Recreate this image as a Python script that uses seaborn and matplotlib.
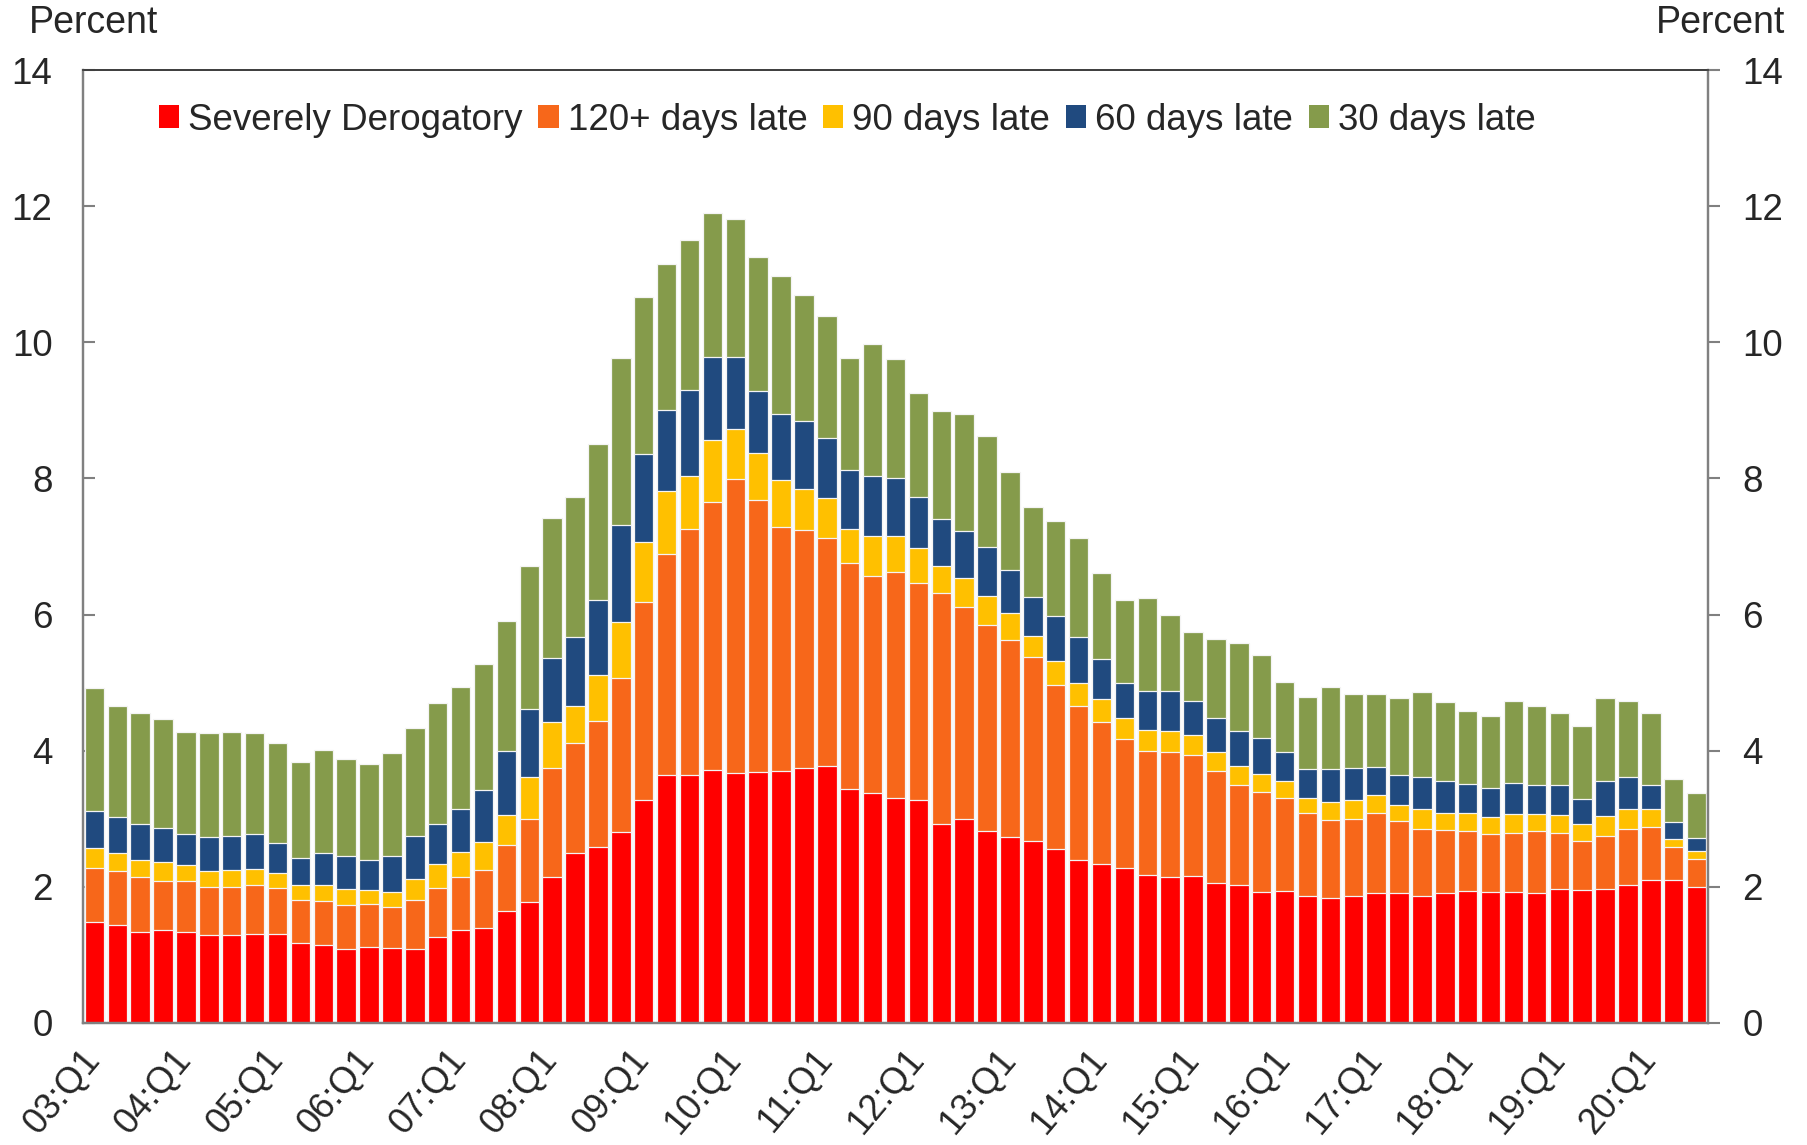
import numpy as np
import pandas as pd
import seaborn as sns
import matplotlib.pyplot as plt
from matplotlib.patches import Patch
from matplotlib.transforms import ScaledTranslation

# quarters 03:Q1 .. 20:Q3
quarters = ['{:02d}:Q{}'.format(y, q) for y in range(3, 21) for q in range(1, 5)][:71]

# top of each stacked segment (cumulative percent)
severe = [1.48, 1.44, 1.34, 1.37, 1.34, 1.30, 1.29, 1.31, 1.31, 1.18,
          1.14, 1.09, 1.11, 1.10, 1.09, 1.27, 1.36, 1.39, 1.64, 1.78,
          2.14, 2.50, 2.59, 2.80, 3.27, 3.64, 3.64, 3.72, 3.67, 3.69,
          3.70, 3.74, 3.77, 3.44, 3.38, 3.30, 3.27, 2.92, 3.00, 2.82,
          2.73, 2.67, 2.55, 2.39, 2.33, 2.27, 2.17, 2.15, 2.16, 2.05,
          2.02, 1.93, 1.94, 1.87, 1.83, 1.86, 1.91, 1.91, 1.87, 1.91,
          1.94, 1.93, 1.93, 1.91, 1.97, 1.95, 1.97, 2.02, 2.10, 2.10, 2.00]
thru_120 = [2.28, 2.24, 2.14, 2.09, 2.08, 2.00, 2.00, 2.02, 1.99, 1.81,
            1.79, 1.73, 1.75, 1.70, 1.80, 1.99, 2.14, 2.25, 2.62, 3.00,
            3.74, 4.11, 4.44, 5.07, 6.18, 6.89, 7.25, 7.66, 7.99, 7.68,
            7.29, 7.24, 7.13, 6.76, 6.57, 6.63, 6.47, 6.32, 6.11, 5.85,
            5.63, 5.38, 4.97, 4.66, 4.42, 4.17, 4.00, 3.98, 3.94, 3.70,
            3.49, 3.40, 3.30, 3.09, 2.98, 2.99, 3.08, 2.97, 2.85, 2.83,
            2.82, 2.78, 2.79, 2.82, 2.79, 2.67, 2.75, 2.85, 2.88, 2.59, 2.41]
thru_90 = [2.57, 2.50, 2.40, 2.36, 2.32, 2.23, 2.25, 2.26, 2.21, 2.02,
           2.02, 1.97, 1.96, 1.92, 2.11, 2.33, 2.51, 2.66, 3.06, 3.62,
           4.42, 4.65, 5.11, 5.89, 7.06, 7.81, 8.04, 8.56, 8.73, 8.37,
           7.97, 7.85, 7.71, 7.25, 7.15, 7.16, 6.98, 6.72, 6.54, 6.27,
           6.03, 5.69, 5.32, 5.00, 4.76, 4.48, 4.31, 4.29, 4.23, 3.98,
           3.77, 3.66, 3.56, 3.31, 3.24, 3.28, 3.35, 3.20, 3.15, 3.09,
           3.08, 3.03, 3.07, 3.07, 3.05, 2.92, 3.04, 3.14, 3.14, 2.71, 2.53]
thru_60 = [3.12, 3.02, 2.92, 2.87, 2.78, 2.73, 2.75, 2.78, 2.64, 2.43,
           2.50, 2.45, 2.40, 2.45, 2.75, 2.93, 3.15, 3.42, 3.99, 4.62,
           5.36, 5.67, 6.21, 7.31, 8.36, 9.01, 9.30, 9.78, 9.78, 9.28,
           8.95, 8.84, 8.60, 8.12, 8.03, 8.01, 7.72, 7.41, 7.23, 7.00,
           6.66, 6.26, 5.98, 5.67, 5.34, 5.00, 4.87, 4.88, 4.73, 4.48,
           4.29, 4.18, 3.98, 3.73, 3.73, 3.75, 3.76, 3.65, 3.61, 3.55,
           3.51, 3.45, 3.52, 3.50, 3.49, 3.29, 3.55, 3.62, 3.50, 2.95, 2.72]
thru_30 = [4.92, 4.66, 4.56, 4.47, 4.28, 4.26, 4.28, 4.26, 4.12, 3.84,
           4.01, 3.88, 3.81, 3.96, 4.33, 4.70, 4.93, 5.28, 5.90, 6.72,
           7.42, 7.72, 8.51, 9.77, 10.66, 11.15, 11.50, 11.90, 11.81, 11.25,
           10.98, 10.69, 10.38, 9.77, 9.98, 9.75, 9.25, 8.99, 8.94, 8.63,
           8.09, 7.58, 7.37, 7.13, 6.61, 6.22, 6.25, 6.00, 5.74, 5.64,
           5.58, 5.40, 5.01, 4.79, 4.93, 4.84, 4.84, 4.78, 4.86, 4.71,
           4.59, 4.51, 4.73, 4.66, 4.56, 4.36, 4.78, 4.73, 4.56, 3.58, 3.38]

labels = ['Severely Derogatory', '120+ days late', '90 days late',
          '60 days late', '30 days late']
colors = ['#FF0000', '#F7671A', '#FFC000', '#204A7F', '#859B4B']

df = pd.DataFrame({'quarter': quarters, 'severe': severe, 'thru_120': thru_120,
                   'thru_90': thru_90, 'thru_60': thru_60, 'thru_30': thru_30})

sns.set_theme(style='white')
plt.rcParams['font.family'] = ['Liberation Sans', 'DejaVu Sans']

fig = plt.figure(figsize=(18.08, 11.45), dpi=100)
ax = fig.add_axes([83/1808, 1 - 1023/1145, 1625/1808, 953/1145])

# draw the tallest layer first so each lower segment sits on top
cols = ['thru_30', 'thru_60', 'thru_90', 'thru_120', 'severe']
for col, c in zip(cols, colors[::-1]):
    sns.barplot(data=df, x='quarter', y=col, color=c, saturation=1,
                width=0.85, errorbar=None, edgecolor='#f4f4f4',
                linewidth=0.9, ax=ax)

ax.set_xlim(-0.5, len(quarters) - 0.5)
ax.set_ylim(0, 14)
ax.set_yticks(np.arange(0, 15, 2))
ax.set_xlabel('')
ax.set_ylabel('')
ax.set_xticks(np.arange(0, len(quarters), 4))
ax.set_xticklabels(quarters[::4], rotation=50, ha='right', fontsize=26)
ax.tick_params(axis='x', length=0, pad=14)
shift = ScaledTranslation(0.13, 0, fig.dpi_scale_trans)
for lab in ax.get_xticklabels():
    lab.set_transform(lab.get_transform() + shift)
ax.tick_params(axis='y', direction='in', length=8.6, width=1.5,
               color='#808080', labelsize=26.5, pad=22)

ax2 = ax.twinx()
ax2.set_ylim(0, 14)
ax2.set_yticks(np.arange(0, 15, 2))
ax2.tick_params(axis='y', direction='out', length=8.6, width=1.5,
                color='#808080', labelsize=26.5, pad=16)

for a in (ax, ax2):
    for side in ['left', 'right', 'bottom']:
        a.spines[side].set_color('#808080')
        a.spines[side].set_linewidth(1.6)
    a.spines['top'].set_color('#404040')
    a.spines['top'].set_linewidth(1.3)

handles = [Patch(facecolor=c, edgecolor='none') for c in colors]
fig.legend(handles, labels, ncol=5, loc='center left',
           bbox_to_anchor=(159/1808, 1 - 120/1145), frameon=False,
           fontsize=26.5, handlelength=0.55, handleheight=0.55,
           handletextpad=0.25, columnspacing=0.42, borderpad=0,
           borderaxespad=0)

fig.text(29/1808, 1 - 33/1145, 'Percent', fontsize=27, va='baseline', ha='left')
fig.text(1785/1808, 1 - 33/1145, 'Percent', fontsize=27, va='baseline', ha='right')

plt.savefig('out.png', dpi=100)
plt.close()
